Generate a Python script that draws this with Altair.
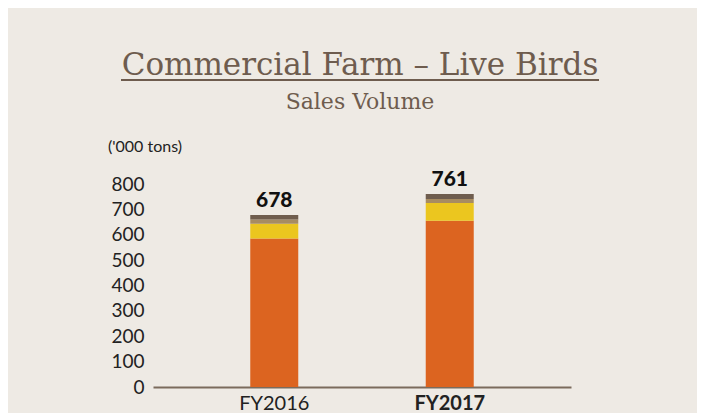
import altair as alt
import pandas as pd

years = ["FY2016", "FY2017"]
segments = ["Seg A", "Seg B", "Seg C", "Seg D"]
seg_colors = ["#DC6420", "#EBC61F", "#A78C62", "#6F5D4E"]
values_2016 = [585, 58, 17, 18]
values_2017 = [655, 70, 16, 20]
totals = [678, 761]
y_ticks = [0, 100, 200, 300, 400, 500, 600, 700, 800]

rows = []
for yr, vals in zip(years, [values_2016, values_2017]):
    for i, (s, v) in enumerate(zip(segments, vals)):
        rows.append({"year": yr, "segment": s, "order": i, "value": v})
df = pd.DataFrame(rows)
tot_df = pd.DataFrame({"year": years, "total": totals})

BG = "#EEEAE4"
BROWN = "#6E5C4E"
SANS = "Lato"

x_axis = alt.Axis(
    title=None,
    labelAngle=0,
    ticks=False,
    domainColor="#7B6B5C",
    domainWidth=2,
    labelFont=SANS,
    labelFontSize=20,
    labelColor="#222222",
    labelPadding=6,
    labelFontWeight=alt.ExprRef("datum.value == 'FY2017' ? 'bold' : 'normal'"),
)
y_axis = alt.Axis(
    title=None,
    values=y_ticks,
    grid=False,
    ticks=False,
    domain=False,
    labelOverlap=False,
    labelFont=SANS,
    labelFontSize=19,
    labelColor="#222222",
    labelPadding=9,
)
x_scale = alt.Scale(paddingInner=0, paddingOuter=0.191)
y_scale = alt.Scale(domain=[0, 800], nice=False)

bars = alt.Chart(df).mark_bar(size=48).encode(
    x=alt.X("year:N", sort=years, scale=x_scale, axis=x_axis),
    y=alt.Y("value:Q", stack="zero", scale=y_scale, axis=y_axis),
    color=alt.Color("segment:N", scale=alt.Scale(domain=segments, range=seg_colors), legend=None),
    order=alt.Order("order:Q", sort="ascending"),
)

labels = alt.Chart(tot_df).mark_text(
    font=SANS, fontSize=21, fontWeight=900, color="#111111", baseline="bottom", dy=-4
).encode(
    x=alt.X("year:N", sort=years, scale=x_scale, axis=x_axis),
    y=alt.Y("total:Q", scale=y_scale, axis=y_axis),
    text=alt.Text("total:Q"),
)

deco = pd.DataFrame({"k": [0]})
title = alt.Chart(deco).mark_text(
    font="DejaVu Serif", fontSize=31, color=BROWN, align="center", baseline="alphabetic"
).encode(x=alt.value(207), y=alt.value(-109), text=alt.value("Commercial Farm – Live Birds"))

underline = alt.Chart(deco).mark_rule(color=BROWN, strokeWidth=2).encode(
    x=alt.value(-32), x2=alt.value(446), y=alt.value(-104)
)

subtitle = alt.Chart(deco).mark_text(
    font="DejaVu Serif", fontSize=22, color=BROWN, align="center", baseline="alphabetic"
).encode(x=alt.value(207), y=alt.value(-75), text=alt.value("Sales Volume"))

unit = alt.Chart(deco).mark_text(
    font=SANS, fontSize=16, color="#222222", align="left", baseline="middle"
).encode(x=alt.value(-45), y=alt.value(-37), text=alt.value("('000 tons)"))

chart = (
    alt.layer(bars, labels, title, underline, subtitle, unit)
    .properties(
        width=418,
        height=203,
        autosize=alt.AutoSizeParams(type="none"),
        padding={"left": 145, "top": 176, "right": 126, "bottom": 26},
        background=BG,
    )
    .configure_view(stroke=None)
    .configure_axisY(labelOverlap=False)
)

chart.save("out.html", embed_options={"renderer": "svg", "actions": False})
